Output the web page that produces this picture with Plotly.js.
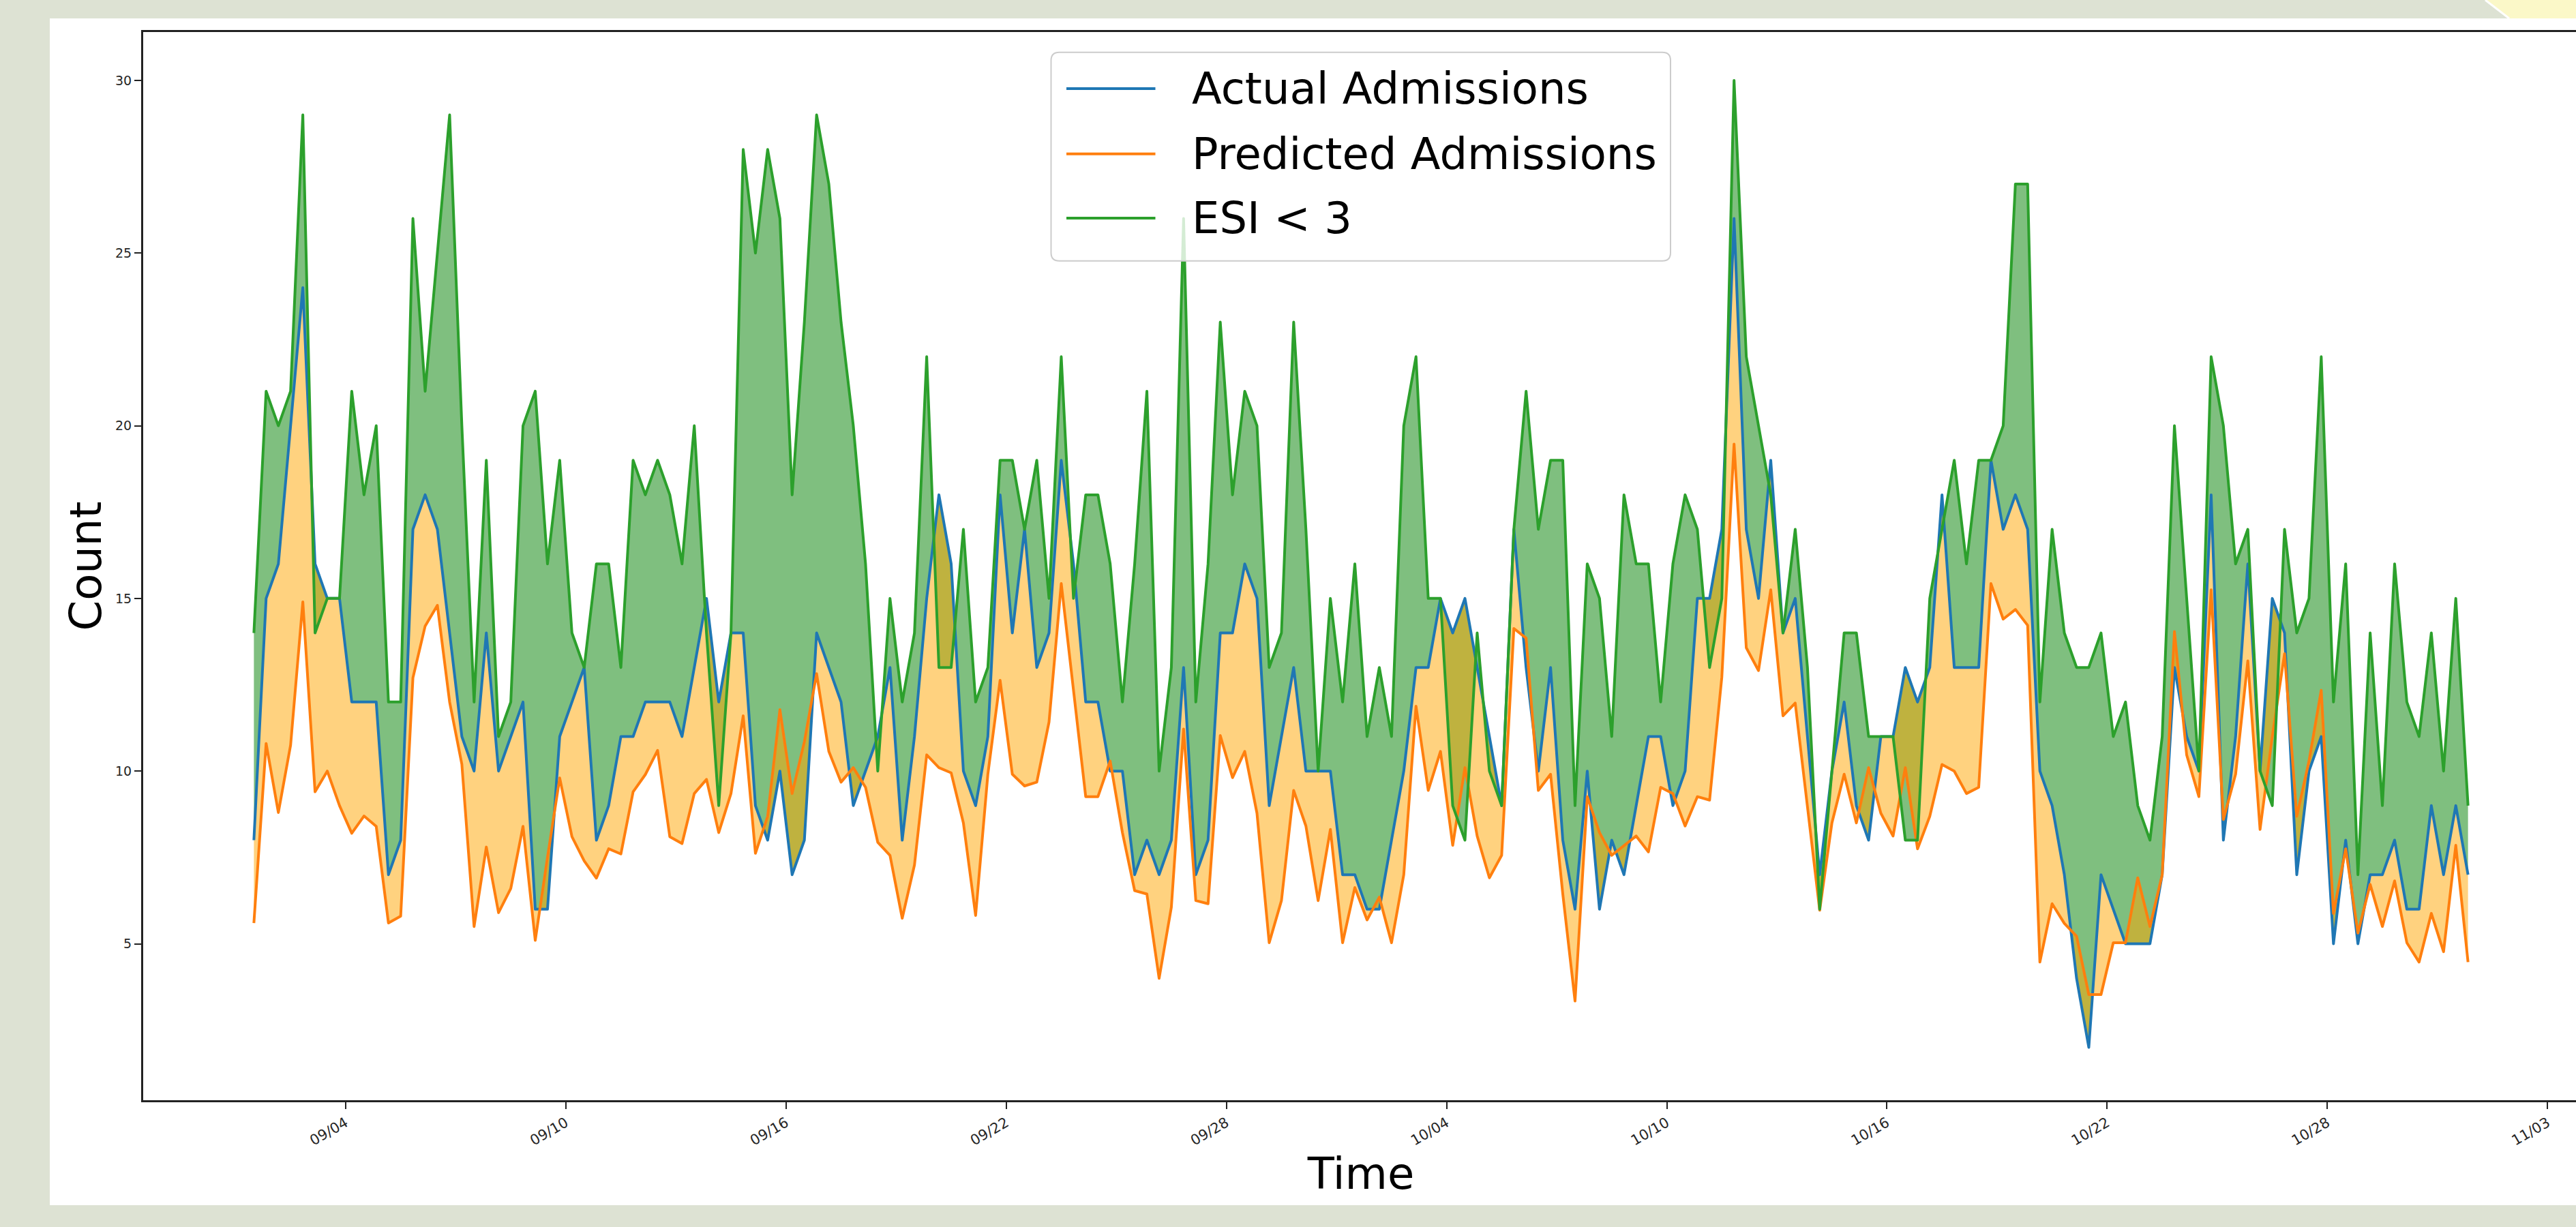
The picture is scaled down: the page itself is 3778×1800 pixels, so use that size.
<!DOCTYPE html>
<html>
<head>
<meta charset="utf-8">
<script src="https://cdn.plot.ly/plotly-3.0.1.min.js"></script>
<style>
html,body{margin:0;padding:0;overflow:hidden;background:#dde2d3;width:3778px;height:1800px;}
#chart{width:3790px;height:1800px;}
.scatterlayer path.js-line{stroke-linejoin:round !important;}
</style>
</head>
<body>
<div id="chart"></div>
<script>
// ---- data (8-hour bins starting 09/01 12:00) ----
const actual = [
  8,15,16,20,24,16,15,15,12,12,
  12,7,8,17,18,17,14,11,10,14,
  10,11,12,6,6,11,12,13,8,9,
  11,11,12,12,12,11,13,15,12,14,
  14,9,8,10,7,8,14,13,12,9,
  10,11,13,8,11,15,18,16,10,9,
  11,18,14,17,13,14,19,16,12,12,
  10,10,7,8,7,8,13,7,8,14,
  14,16,15,9,11,13,10,10,10,7,
  7,6,6,8,10,13,13,15,14,15,
  13,11,9,17,13,10,13,8,6,10,
  6,8,7,9,11,11,9,10,15,15,
  17,26,17,15,19,14,15,11,7,10,
  12,9,8,11,11,13,12,13,18,13,
  13,13,19,17,18,17,10,9,7,4,
  2,7,6,5,5,5,7,13,11,10,
  18,8,11,16,10,15,14,7,10,11,
  5,8,5,7,7,8,6,6,9,7,
  9,7
];
const predicted = [
  5.6,10.8,8.8,10.75,14.9,9.4,10.0,9.0,8.2,8.7,
  8.4,5.6,5.8,12.7,14.2,14.8,12.0,10.2,5.5,7.8,
  5.9,6.6,8.4,5.1,7.5,9.8,8.1,7.4,6.9,7.75,
  7.6,9.4,9.9,10.6,8.1,7.9,9.35,9.76,8.22,9.35,
  11.6,7.62,8.69,11.78,9.35,10.85,12.82,10.57,9.68,10.1,
  9.53,7.94,7.56,5.74,7.28,10.47,10.1,9.95,8.5,5.82,
  9.91,12.63,9.91,9.57,9.68,11.42,15.43,12.34,9.26,9.26,
  10.29,8.22,6.54,6.44,4.0,6.06,11.22,6.25,6.16,11.03,
  9.81,10.57,8.78,5.03,6.25,9.44,8.41,6.25,8.31,5.03,
  6.63,5.69,6.35,5.03,7.0,11.88,9.44,10.57,7.85,10.1,
  8.12,6.91,7.56,14.13,13.85,9.44,9.91,6.44,3.34,9.26,
  8.22,7.56,7.85,8.12,7.66,9.53,9.35,8.41,9.26,9.16,
  12.72,19.47,13.57,12.91,15.25,11.6,11.97,8.97,5.97,8.5,
  9.91,8.5,10.1,8.78,8.12,10.1,7.75,8.69,10.19,10.0,
  9.35,9.53,15.43,14.4,14.68,14.22,4.47,6.16,5.59,5.22,
  3.53,3.53,5.03,5.03,6.91,5.5,7.0,14.04,10.47,9.26,
  15.25,8.6,9.91,13.19,8.31,11.0,13.4,8.69,10.29,12.34,
  5.88,7.75,5.31,6.72,5.5,6.82,5.03,4.47,5.88,4.77,
  7.85,4.47
];
const esiBelow3 = [
  14,21,20,21,29,14,15,15,21,18,
  20,12,12,26,21,25,29,20,12,19,
  11,12,20,21,16,19,14,13,16,16,
  13,19,18,19,18,16,20,14,9,14,
  28,25,28,26,18,23,29,27,23,20,
  16,10,15,12,14,22,13,13,17,12,
  13,19,19,17,19,15,22,15,18,18,
  16,12,16,21,10,13,26,12,16,23,
  18,21,20,13,14,23,17,10,15,12,
  16,11,13,11,20,22,15,15,9,8,
  14,10,9,17,21,17,19,19,9,16,
  15,11,18,16,16,12,16,18,17,13,
  15,30,22,20,18,14,17,13,6,10,
  14,14,11,11,11,8,8,15,17,19,
  16,19,19,20,27,27,12,17,14,13,
  13,14,11,12,9,8,11,20,15,10,
  22,20,16,17,10,9,17,14,15,22,
  12,16,7,14,9,16,12,11,14,10,
  15,9
];
const seriesNames = ['Actual Admissions', 'Predicted Admissions', 'ESI < 3'];
const seriesColors = ['#1f77b4', '#ff7f0e', '#2ca02c'];
const fillColors = ['rgba(0,128,0,0.5)', 'rgba(255,165,0,0.5)'];
const tickDates = ['2023-09-04','2023-09-10','2023-09-16','2023-09-22','2023-09-28',
                   '2023-10-04','2023-10-10','2023-10-16','2023-10-22','2023-10-28','2023-11-03'];
const tickLabels = ['09/04','09/10','09/16','09/22','09/28','10/04','10/10','10/16','10/22','10/28','11/03'];
const yTickVals = [5, 10, 15, 20, 25, 30];

// timeline: one bin every 8 hours
const startMs = Date.UTC(2023, 8, 1, 12, 0, 0);
const stepMs = 8 * 3600 * 1000;
const times = actual.map((_, i) => new Date(startMs + i * stepMs).toISOString().slice(0, 19).replace('T', ' '));

// ---- geometry ----
const W = 3790, H = 1800, ML = 210, MR = 8, MT = 47, MB = 186;
const PW = W - ML - MR, PH = H - MT - MB;
const px = X => (X - ML) / PW;
const py = Y => (H - MB - Y) / PH;

function roundRectPath(X0, Y0, X1, Y1, r) {
  const p = (X, Y) => px(X) + ',' + py(Y);
  return 'M' + p(X0 + r, Y0) + ' L' + p(X1 - r, Y0) + ' Q' + p(X1, Y0) + ' ' + p(X1, Y0 + r) +
         ' L' + p(X1, Y1 - r) + ' Q' + p(X1, Y1) + ' ' + p(X1 - r, Y1) +
         ' L' + p(X0 + r, Y1) + ' Q' + p(X0, Y1) + ' ' + p(X0, Y1 - r) +
         ' L' + p(X0, Y0 + r) + ' Q' + p(X0, Y0) + ' ' + p(X0 + r, Y0) + ' Z';
}

const font = 'DejaVu Sans, Liberation Sans, sans-serif';
const hidden = {width: 0, color: 'rgba(0,0,0,0)'};

const traces = [
  {x: times, y: actual, mode: 'lines', line: hidden, showlegend: false, hoverinfo: 'skip'},
  {x: times, y: esiBelow3, mode: 'lines', line: hidden, fill: 'tonexty', fillcolor: fillColors[0], showlegend: false, hoverinfo: 'skip'},
  {x: times, y: actual, mode: 'lines', line: hidden, showlegend: false, hoverinfo: 'skip'},
  {x: times, y: predicted, mode: 'lines', line: hidden, fill: 'tonexty', fillcolor: fillColors[1], showlegend: false, hoverinfo: 'skip'},
  {x: times, y: actual, name: seriesNames[0], mode: 'lines', line: {color: seriesColors[0], width: 4}},
  {x: times, y: predicted, name: seriesNames[1], mode: 'lines', line: {color: seriesColors[1], width: 4}},
  {x: times, y: esiBelow3, name: seriesNames[2], mode: 'lines', line: {color: seriesColors[2], width: 4}}
];

// legend (drawn like the matplotlib one)
const legendRows = [130, 225.7, 320];
const shapes = [
  {type: 'rect', xref: 'paper', yref: 'paper', x0: px(73), x1: px(W), y0: py(1768), y1: py(27),
   fillcolor: '#ffffff', line: {width: 0}, layer: 'below'},
  {type: 'path', xref: 'paper', yref: 'paper',
   path: 'M' + px(3645) + ',' + py(0) + ' L' + px(W) + ',' + py(0) + ' L' + px(W) + ',' + py(27) + ' L' + px(3680) + ',' + py(27) + ' Z',
   fillcolor: '#fbf8c8', line: {width: 0}, layer: 'below'},
  {type: 'line', xref: 'paper', yref: 'paper', x0: px(3645), y0: py(0), x1: px(3680), y1: py(27),
   line: {color: '#ffffff', width: 3}, layer: 'below'},
  {type: 'path', xref: 'paper', yref: 'paper', path: roundRectPath(1541.5, 76.7, 2450, 382.7, 12),
   fillcolor: 'rgba(255,255,255,0.8)', line: {color: '#cccccc', width: 2}, layer: 'above'}
];
const annotations = [];
seriesNames.forEach((name, k) => {
  shapes.push({type: 'line', xref: 'paper', yref: 'paper', x0: px(1564), x1: px(1694.5),
               y0: py(legendRows[k]), y1: py(legendRows[k]), line: {color: seriesColors[k], width: 4}, layer: 'above'});
  annotations.push({xref: 'paper', yref: 'paper', x: px(1745.5), y: py(legendRows[k]), xanchor: 'left', yanchor: 'middle',
                    text: name, showarrow: false, font: {family: font, size: 64, color: '#000000'}});
});

const layout = {
  width: W, height: H,
  margin: {l: ML, r: MR, t: MT, b: MB, pad: 0},
  paper_bgcolor: '#dde2d3',
  plot_bgcolor: '#ffffff',
  showlegend: false,
  hovermode: false,
  font: {family: font, color: '#000000'},
  xaxis: {
    type: 'date',
    range: ['2023-08-29 11:36:00', '2023-11-03 20:24:00'],
    tickmode: 'array', tickvals: tickDates, ticktext: tickLabels,
    tickangle: -30, tickfont: {family: font, size: 21, color: '#262626'},
    ticks: 'outside', ticklen: 10, tickwidth: 2, tickcolor: '#222222',
    showline: true, mirror: true, linecolor: '#222222', linewidth: 3,
    showgrid: false, zeroline: false,
    title: {text: 'Time', font: {family: font, size: 64, color: '#000000'}, standoff: 7}
  },
  yaxis: {
    range: [0.47, 31.4],
    tickmode: 'array', tickvals: yTickVals, ticktext: yTickVals.map(String),
    tickfont: {family: font, size: 19, color: '#262626'},
    ticks: 'outside', ticklen: 10, tickwidth: 2, tickcolor: '#222222',
    showline: true, mirror: true, linecolor: '#222222', linewidth: 3,
    showgrid: false, zeroline: false,
    title: {text: 'Count', font: {family: font, size: 64, color: '#000000'}, standoff: 0}
  },
  shapes: shapes,
  annotations: annotations
};

Plotly.newPlot('chart', traces, layout, {staticPlot: true, displayModeBar: false, responsive: false});
</script>
</body>
</html>
